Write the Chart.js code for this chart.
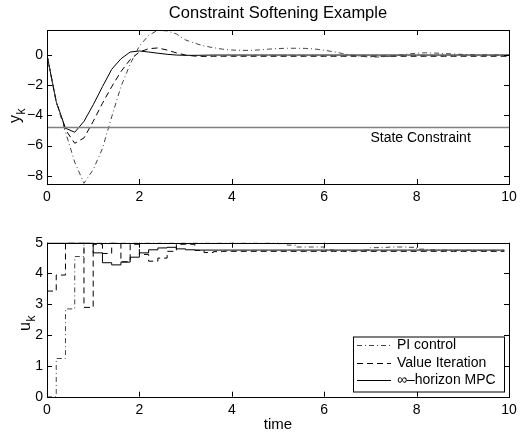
<!DOCTYPE html>
<html>
<head>
<meta charset="utf-8">
<script src="https://cdn.jsdelivr.net/npm/chart.js@4.4.0/dist/chart.umd.min.js"></script>
<style>
  html, body { margin: 0; padding: 0; background: #fff; }
  #wrap { position: relative; width: 526px; height: 436px; }
  .panel { position: absolute; left: 0; width: 526px; }
</style>
</head>
<body>
<div id="wrap">
  <div class="panel" style="top:0;height:220px"><canvas id="outputChart" width="526" height="220"></canvas></div>
  <div class="panel" style="top:220px;height:216px"><canvas id="inputChart" width="526" height="216"></canvas></div>
</div>
<script>
// ---- data ----
const seriesNames = ['PI control', 'Value Iteration', '\u221E\u2013horizon MPC'];

const timeY = [0, 0.2, 0.4, 0.6, 0.8, 1, 1.2, 1.4, 1.6, 1.8,
  2, 2.2, 2.4, 2.6, 2.8, 3, 3.2, 3.4, 3.6, 3.8,
  4, 4.2, 4.4, 4.6, 4.8, 5, 5.2, 5.4, 5.6, 5.8,
  6, 6.2, 6.4, 6.6, 6.8, 7, 7.2, 7.4, 7.6, 7.8,
  8, 8.2, 8.4, 8.6, 8.8, 9, 9.2, 9.4, 9.6, 9.8, 10];

const yPI = [0, -3.1, -5.1, -7.1, -8.5, -7.6, -6.2, -4.1, -2.1, -0.6,
  0.6, 1.3, 1.65, 1.6, 1.4, 1.0, 0.78, 0.6, 0.49, 0.39,
  0.33, 0.31, 0.31, 0.34, 0.39, 0.43, 0.45, 0.45, 0.44, 0.4,
  0.32, 0.22, 0.1, -0.01, -0.09, -0.13, -0.13, -0.09, -0.02, 0.06,
  0.12, 0.15, 0.13, 0.1, 0.07, 0.04, 0.02, 0.01, 0, 0, 0];

const yValueIter = [0, -3.1, -4.95, -5.85, -5.5, -4.4, -3.2, -2.1, -1.1, -0.3,
  0.2, 0.42, 0.47, 0.33, 0.14, 0.0, -0.07, -0.09, -0.08, -0.08,
  -0.08, -0.08, -0.08, -0.08, -0.08, -0.08, -0.08, -0.08, -0.08, -0.08,
  -0.08, -0.08, -0.08, -0.08, -0.08, -0.08, -0.08, -0.08, -0.08, -0.08,
  -0.08, -0.08, -0.08, -0.08, -0.08, -0.08, -0.08, -0.08, -0.08, -0.08, -0.08];

const yMPC = [0, -3.1, -4.85, -5.12, -4.4, -3.3, -2.1, -0.95, -0.25, 0.2,
  0.27, 0.2, 0.12, 0.05, 0.0, -0.02, -0.02, -0.01, 0, 0,
  0, 0, 0, 0, 0, 0, 0, 0, 0, 0,
  0, 0, 0, 0, 0, 0, 0, 0, 0, 0,
  0, 0, 0, 0, 0, 0, 0, 0, 0, 0, 0];

const stateConstraint = -4.8;

const timeU = [0, 0.2, 0.4, 0.6, 0.8, 1, 1.2, 1.4, 1.6, 1.8,
  2, 2.2, 2.4, 2.6, 2.8, 3, 3.2, 3.4, 3.6, 3.8,
  4, 4.2, 4.4, 4.6, 4.8, 5, 5.2, 5.4, 5.6, 5.8,
  6, 6.2, 6.4, 6.6, 6.8, 7, 7.2, 7.4, 7.6, 7.8,
  8, 8.2, 8.4, 8.6, 8.8, 9, 9.2, 9.4, 9.6, 9.8];
const timeUEnd = 9.9;

const uPI = [0, 1.24, 2.85, 4.55, 5, 5, 5, 5, 5, 5,
  5, 5, 5, 5, 5, 5, 5, 5, 5, 5,
  5, 5, 5, 5, 5, 4.97, 4.92, 4.86, 4.86, 4.86,
  4.77, 4.75, 4.74, 4.74, 4.76, 4.84, 4.85, 4.86, 4.86, 4.85,
  4.79, 4.77, 4.76, 4.76, 4.75, 4.75, 4.75, 4.75, 4.75, 4.75];

const uValueIter = [3.43, 3.95, 5, 5, 2.9, 4.95, 4.65, 5, 4.38, 4.95,
  4.62, 4.4, 4.5, 4.72, 4.95, 4.95, 4.75, 4.68, 4.71, 4.72,
  4.72, 4.72, 4.72, 4.72, 4.72, 4.72, 4.72, 4.72, 4.72, 4.72,
  4.72, 4.72, 4.72, 4.72, 4.72, 4.72, 4.72, 4.72, 4.72, 4.72,
  4.72, 4.72, 4.72, 4.72, 4.72, 4.72, 4.72, 4.72, 4.72, 4.72];

const uMPC = [5, 5, 5, 5, 5, 4.67, 4.35, 4.28, 4.37, 4.53,
  4.67, 4.77, 4.83, 4.85, 4.8, 4.77, 4.76, 4.76, 4.76, 4.76,
  4.76, 4.76, 4.76, 4.76, 4.76, 4.76, 4.76, 4.76, 4.76, 4.76,
  4.76, 4.76, 4.76, 4.76, 4.76, 4.76, 4.76, 4.76, 4.76, 4.76,
  4.76, 4.76, 4.76, 4.76, 4.76, 4.76, 4.76, 4.76, 4.76, 4.76];

const xTicks = [0, 2, 4, 6, 8, 10];
const yTicksOutput = [-8, -6, -4, -2, 0];
const yTicksInput = [0, 1, 2, 3, 4, 5];

// ---- styling ----
const FONT = "'Liberation Sans', Arial, Helvetica, sans-serif";
const DASH_PI = [5, 3, 1, 3];
const DASH_VI = [6, 4];

const toPoints = (xs, ys) => xs.map((x, i) => ({ x: x, y: ys[i] }));
const holdToEnd = (xs, ys) => toPoints(xs, ys).concat([{ x: timeUEnd, y: ys[ys.length - 1] }]);
const minusSign = v => String(v).replace('-', '\u2212');

// frame with inward ticks on all four sides, like the original
const framePlugin = {
  id: 'frame',
  afterDatasetsDraw(chart) {
    const { ctx, chartArea: a, scales } = chart;
    const L = 5;
    ctx.save();
    ctx.strokeStyle = '#000';
    ctx.lineWidth = 1;
    ctx.beginPath();
    scales.x.ticks.forEach(t => {
      const px = Math.round(scales.x.getPixelForValue(t.value)) + 0.5;
      ctx.moveTo(px, a.bottom); ctx.lineTo(px, a.bottom - L);
      ctx.moveTo(px, a.top); ctx.lineTo(px, a.top + L);
    });
    scales.y.ticks.forEach(t => {
      const py = Math.round(scales.y.getPixelForValue(t.value)) + 0.5;
      ctx.moveTo(a.left, py); ctx.lineTo(a.left + L, py);
      ctx.moveTo(a.right, py); ctx.lineTo(a.right - L, py);
    });
    ctx.stroke();
    ctx.strokeRect(Math.round(a.left) + 0.5, Math.round(a.top) + 0.5,
      Math.round(a.right - a.left), Math.round(a.bottom - a.top));
    ctx.restore();
  }
};

// titles, axis labels with subscripts, free text
const textPlugin = {
  id: 'texts',
  afterDraw(chart, args, opts) {
    const { ctx, chartArea: a, scales } = chart;
    ctx.save();
    ctx.fillStyle = '#000';
    if (opts.title) {
      ctx.font = '16.5px ' + FONT;
      ctx.textAlign = 'center';
      ctx.textBaseline = 'middle';
      ctx.fillText(opts.title, (a.left + a.right) / 2, opts.titleY);
    }
    if (opts.xlabel) {
      ctx.font = '15px ' + FONT;
      ctx.textAlign = 'center';
      ctx.textBaseline = 'middle';
      ctx.fillText(opts.xlabel, (a.left + a.right) / 2, opts.xlabelY);
    }
    if (opts.ylabel) {
      const lab = opts.ylabel;
      ctx.translate(lab.x, lab.y);
      ctx.rotate(-Math.PI / 2);
      ctx.textAlign = 'left';
      ctx.textBaseline = 'alphabetic';
      ctx.font = '16px ' + FONT;
      ctx.fillText(lab.main, 0, 0);
      const w = ctx.measureText(lab.main).width;
      ctx.font = '12px ' + FONT;
      ctx.fillText(lab.sub, w + 0.5, lab.subShift);
      ctx.setTransform(1, 0, 0, 1, 0, 0);
    }
    if (opts.note) {
      ctx.font = '14px ' + FONT;
      ctx.textAlign = 'left';
      ctx.textBaseline = 'middle';
      ctx.fillText(opts.note.text, scales.x.getPixelForValue(opts.note.x), scales.y.getPixelForValue(opts.note.y));
    }
    ctx.restore();
  }
};

// boxed legend inside the lower plot
const boxLegendPlugin = {
  id: 'boxLegend',
  afterDraw(chart, args, opts) {
    if (!opts.show) return;
    const { ctx } = chart;
    ctx.save();
    ctx.fillStyle = '#fff';
    ctx.fillRect(opts.left, opts.top, opts.width, opts.height);
    ctx.strokeStyle = '#000';
    ctx.lineWidth = 1;
    ctx.strokeRect(opts.left + 0.5, opts.top + 0.5, opts.width, opts.height);
    ctx.font = '14px ' + FONT;
    ctx.textBaseline = 'middle';
    ctx.textAlign = 'left';
    chart.data.datasets.forEach((ds, i) => {
      const yy = Math.round(opts.top + opts.rowStart + i * opts.rowGap) + 0.5;
      ctx.beginPath();
      ctx.setLineDash(ds.borderDash || []);
      ctx.strokeStyle = ds.borderColor;
      ctx.lineWidth = 1;
      ctx.moveTo(opts.left + opts.lineFrom, yy);
      ctx.lineTo(opts.left + opts.lineTo, yy);
      ctx.stroke();
      ctx.setLineDash([]);
      ctx.fillStyle = '#000';
      ctx.fillText(ds.label, opts.left + opts.textX, yy);
    });
    ctx.restore();
  }
};

function scalesFor(yMin, yMax, yTicks, xHeight) {
  const tickFont = { family: FONT, size: 14 };
  return {
    x: {
      type: 'linear', min: 0, max: 10,
      grid: { display: false, drawTicks: false },
      border: { display: false },
      afterBuildTicks: s => { s.ticks = xTicks.map(v => ({ value: v })); },
      afterFit: s => { s.height = xHeight; },
      ticks: { color: '#000', font: tickFont, padding: 5, maxRotation: 0, callback: minusSign }
    },
    y: {
      type: 'linear', min: yMin, max: yMax,
      grid: { display: false, drawTicks: false },
      border: { display: false },
      afterBuildTicks: s => { s.ticks = yTicks.map(v => ({ value: v })); },
      afterFit: s => { s.width = 47; },
      ticks: { color: '#000', font: tickFont, padding: 4, callback: minusSign }
    }
  };
}

const lineStyle = (label, dash, color) => ({
  label: label,
  borderColor: color,
  borderWidth: 1,
  borderDash: dash,
  pointRadius: 0,
  tension: 0,
  fill: false
});

new Chart(document.getElementById('outputChart'), {
  type: 'line',
  data: {
    datasets: [
      Object.assign(lineStyle('State Constraint', [], '#808080'), {
        data: toPoints([0, 10], [stateConstraint, stateConstraint]), borderWidth: 1.6 }),
      Object.assign(lineStyle(seriesNames[0], DASH_PI, '#444'), { data: toPoints(timeY, yPI) }),
      Object.assign(lineStyle(seriesNames[1], DASH_VI, '#000'), { data: toPoints(timeY, yValueIter) }),
      Object.assign(lineStyle(seriesNames[2], [], '#000'), { data: toPoints(timeY, yMPC) })
    ]
  },
  options: {
    responsive: false,
    animation: false,
    layout: { padding: { top: 30, right: 17, left: 0, bottom: 0 } },
    scales: scalesFor(-8.55, 1.66, yTicksOutput, 36),
    plugins: {
      legend: { display: false },
      tooltip: { enabled: false },
      texts: {
        title: 'Constraint Softening Example', titleY: 13,
        ylabel: { main: 'y', sub: 'k', x: 20, y: 123, subShift: 5 },
        note: { text: 'State Constraint', x: 7, y: -5.5 }
      },
      boxLegend: { show: false }
    }
  },
  plugins: [framePlugin, textPlugin, boxLegendPlugin]
});

new Chart(document.getElementById('inputChart'), {
  type: 'line',
  data: {
    datasets: [
      Object.assign(lineStyle(seriesNames[0], DASH_PI, '#444'), { data: holdToEnd(timeU, uPI), stepped: 'before' }),
      Object.assign(lineStyle(seriesNames[1], DASH_VI, '#000'), { data: holdToEnd(timeU, uValueIter), stepped: 'before' }),
      Object.assign(lineStyle(seriesNames[2], [], '#000'), { data: holdToEnd(timeU, uMPC), stepped: 'before' })
    ]
  },
  options: {
    responsive: false,
    animation: false,
    layout: { padding: { top: 22.7, right: 17, left: 0, bottom: 0 } },
    scales: scalesFor(0, 5, yTicksInput, 39.3),
    plugins: {
      legend: { display: false },
      tooltip: { enabled: false },
      texts: {
        xlabel: 'time', xlabelY: 205,
        ylabel: { main: 'u', sub: 'k', x: 30, y: 111, subShift: 5 }
      },
      boxLegend: {
        show: true, left: 353, top: 116.5, width: 151, height: 55,
        rowStart: 8.5, rowGap: 17.5, lineFrom: 4, lineTo: 38, textX: 44
      }
    }
  },
  plugins: [framePlugin, textPlugin, boxLegendPlugin]
});
</script>
</body>
</html>
